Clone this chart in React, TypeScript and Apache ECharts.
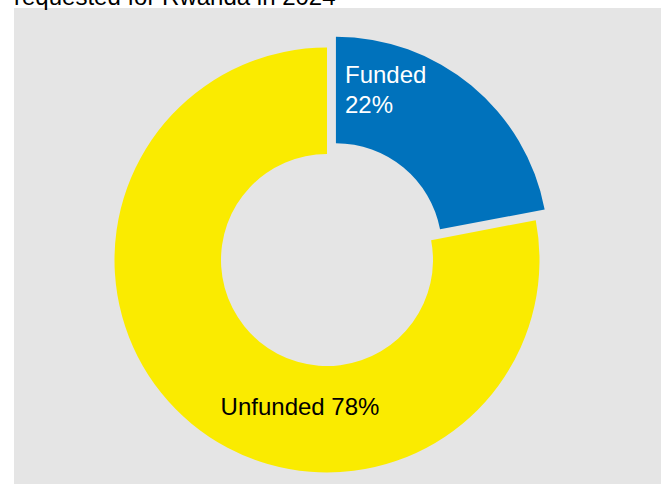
import React, { useEffect, useRef } from "react";
import * as echarts from "echarts";

const categories = ["Funded", "Unfunded"];
const values = [22, 78];
const colors = ["#0072BC", "#FAEB00"];
const labelColors = ["#ffffff", "#000000"];
const titleText = "requested for Rwanda in 2024";

export default function App() {
  const ref = useRef<HTMLDivElement>(null);
  useEffect(() => {
    document.body.style.margin = "0";
    const chart = echarts.init(ref.current!, null, { renderer: "svg" });
    const font = "'Liberation Sans', Arial, sans-serif";
    const cx = 327;
    const cy = 260;
    const explode = 14;
    // explode the first slice along its mid-angle
    const total = values.reduce((a, b) => a + b, 0);
    const mid = ((values[0] / total) * 360) / 2;
    const rad = (mid * Math.PI) / 180;
    const ex = explode * Math.sin(rad);
    const ey = -explode * Math.cos(rad);

    const makeSeries = (visible: number, center: number[]) => ({
      type: "pie",
      center,
      radius: [106, 212.5],
      startAngle: 90,
      clockwise: true,
      silent: true,
      emphasis: { disabled: true },
      labelLine: { show: false },
      data: categories.map((c, i) => ({
        name: c,
        value: values[i],
        itemStyle: {
          color: i === visible ? colors[i] : "rgba(0,0,0,0)",
          borderWidth: 0,
        },
        label: {
          show: i === visible,
          position: "inside",
          formatter: i === 0 ? "{b}\n{c}%" : "{b} {c}%",
          color: labelColors[i],
          fontSize: 24,
          fontFamily: font,
          lineHeight: 30,
          align: i === 0 ? "left" : "center",
        },
      })),
      labelLayout: (params: any) => {
        if (params.dataIndex === 0) {
          return { x: 345, y: 89, align: "left", verticalAlign: "middle" };
        }
        return { x: 300, y: 406, align: "center", verticalAlign: "middle" };
      },
    });

    chart.setOption({
      animation: false,
      backgroundColor: "#ffffff",
      graphic: [
        {
          type: "rect",
          shape: { x: 14, y: 8, width: 661 - 14, height: 484 - 8 },
          style: { fill: "#E5E5E5" },
          z: -10,
          silent: true,
        },
        {
          type: "text",
          x: 14,
          y: -4,
          style: {
            text: titleText,
            font: `24px ${font}`,
            fill: "#000000",
            textAlign: "left",
            textVerticalAlign: "middle",
          },
          silent: true,
        },
      ],
      series: [makeSeries(1, [cx, cy]), makeSeries(0, [cx + ex, cy + ey])],
    });
    return () => chart.dispose();
  }, []);
  return (
    <div
      ref={ref}
      style={{ position: "absolute", left: 0, top: 0, width: 661, height: 484 }}
    />
  );
}
